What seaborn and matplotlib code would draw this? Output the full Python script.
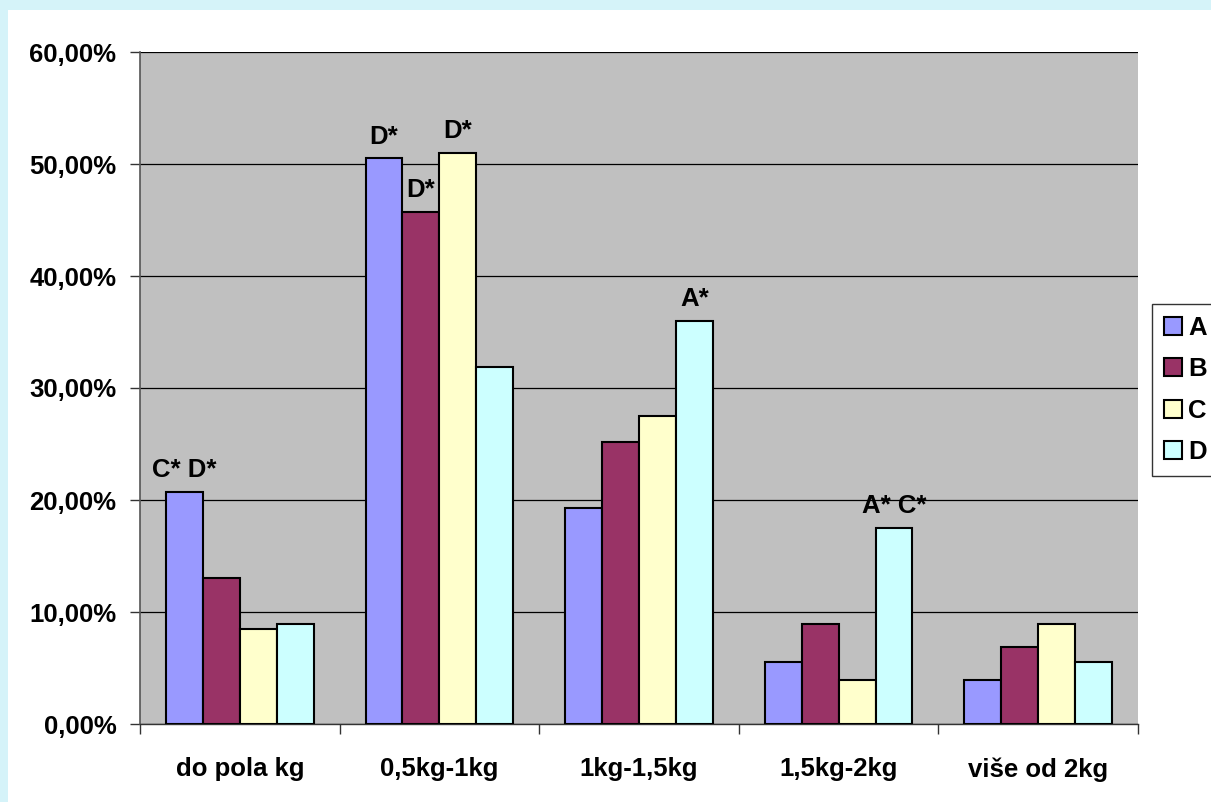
import pandas as pd
import matplotlib
matplotlib.use("Agg")
import matplotlib.pyplot as plt
import matplotlib.patches as mpatches
from matplotlib.ticker import FuncFormatter, FixedLocator
import seaborn as sns

# ------------------------------
# Data
# ------------------------------
kategorije = ["do pola kg", "0,5kg-1kg", "1kg-1,5kg", "1,5kg-2kg", "više od 2kg"]
grupe = ["A", "B", "C", "D"]
vrijednosti_a = [20.7, 50.5, 19.3, 5.5, 3.9]
vrijednosti_b = [13.0, 45.7, 25.2, 8.9, 6.9]
vrijednosti_c = [8.5, 51.0, 27.5, 3.9, 8.9]
vrijednosti_d = [8.9, 31.9, 36.0, 17.5, 5.5]
boje = ["#9999ff", "#993366", "#ffffcc", "#ccffff"]

# (kategorija, grupa, oznaka)
oznake = [
    ("do pola kg", "A", "C* D*"),
    ("0,5kg-1kg", "A", "D*"),
    ("0,5kg-1kg", "B", "D*"),
    ("0,5kg-1kg", "C", "D*"),
    ("1kg-1,5kg", "D", "A*"),
    ("1,5kg-2kg", "D", "A* C*"),
]

rows = []
for g, vals in zip(grupe, [vrijednosti_a, vrijednosti_b, vrijednosti_c, vrijednosti_d]):
    for k, v in zip(kategorije, vals):
        rows.append({"kategorija": k, "grupa": g, "postotak": v})
df = pd.DataFrame(rows)

# ------------------------------
# Figure
# ------------------------------
sns.set_style("white")
plt.rcParams["font.family"] = ["Liberation Sans", "DejaVu Sans"]
plt.rcParams["font.weight"] = "bold"
plt.rcParams["text.color"] = "black"
plt.rcParams["xtick.labelcolor"] = "black"
plt.rcParams["ytick.labelcolor"] = "black"

fig = plt.figure(figsize=(12.11, 8.02), dpi=100, facecolor="#d5f3f9")
# white panel inside the light cyan border
bg = fig.add_axes([8 / 1211, 0, 1 - 8 / 1211, 1 - 10 / 802], zorder=-5)
bg.set_facecolor("white")
bg.set_xticks([])
bg.set_yticks([])
for s in bg.spines.values():
    s.set_visible(False)

ax = fig.add_axes([140 / 1211, 1 - 724 / 802, (1138 - 140) / 1211, (724 - 52) / 802])
ax.set_facecolor("#c0c0c0")

sns.barplot(data=df, x="kategorija", y="postotak", hue="grupa",
            order=kategorije, hue_order=grupe, palette=boje,
            width=0.74, gap=0, edgecolor="black", linewidth=1.5,
            saturation=1, ax=ax, zorder=3)

ax.set_ylim(0, 60)
ax.set_xlim(-0.5, len(kategorije) - 0.5)
ax.set_yticks(range(0, 61, 10))
ax.yaxis.set_major_formatter(FuncFormatter(lambda v, p: f"{v:.2f}%".replace(".", ",")))
ax.yaxis.grid(True, color="black", linewidth=0.9)
ax.set_axisbelow(True)
ax.tick_params(axis="y", length=7, width=1, color="#333333", direction="out",
               labelsize=18.5, labelcolor="black", pad=10, left=True)
ax.tick_params(axis="x", which="major", length=0, labelsize=18.5, labelcolor="black", pad=24)
ax.xaxis.set_minor_locator(FixedLocator([i - 0.5 for i in range(len(kategorije) + 1)]))
ax.tick_params(axis="x", which="minor", length=7, width=1, color="#333333",
               direction="out", bottom=True)
for lbl in ax.get_xticklabels() + ax.get_yticklabels():
    lbl.set_fontweight("bold")
ax.set_xlabel("")
ax.set_ylabel("")

for s in ["top", "right"]:
    ax.spines[s].set_visible(False)
ax.spines["left"].set_color("#555555")
ax.spines["left"].set_linewidth(1.2)
ax.spines["bottom"].set_color("#333333")
ax.spines["bottom"].set_linewidth(1.0)

# annotations above the bars
n = len(kategorije)
for kat, grp, txt in oznake:
    bar = ax.patches[grupe.index(grp) * n + kategorije.index(kat)]
    ax.annotate(txt, (bar.get_x() + bar.get_width() / 2, bar.get_height()),
                xytext=(0, 7), textcoords="offset points", color="black",
                ha="center", va="bottom", fontsize=18.5, fontweight="bold", zorder=5)

# legend on the right edge
handles = [mpatches.Patch(facecolor=c, edgecolor="black", linewidth=1.5) for c in boje]
leg = ax.legend(handles, grupe, loc="upper left",
                bbox_to_anchor=(1152 / 1211, 1 - 304 / 802), bbox_transform=fig.transFigure,
                fontsize=18.5, frameon=True, fancybox=False, handlelength=0.7,
                handleheight=0.7, handletextpad=0.25, labelspacing=0.68,
                borderpad=0.45, borderaxespad=0)
leg.get_frame().set_edgecolor("black")
leg.get_frame().set_linewidth(1.0)
for t in leg.get_texts():
    t.set_fontweight("bold")
    t.set_color("black")

plt.savefig("out.png", dpi=100, facecolor=fig.get_facecolor())
plt.close()
